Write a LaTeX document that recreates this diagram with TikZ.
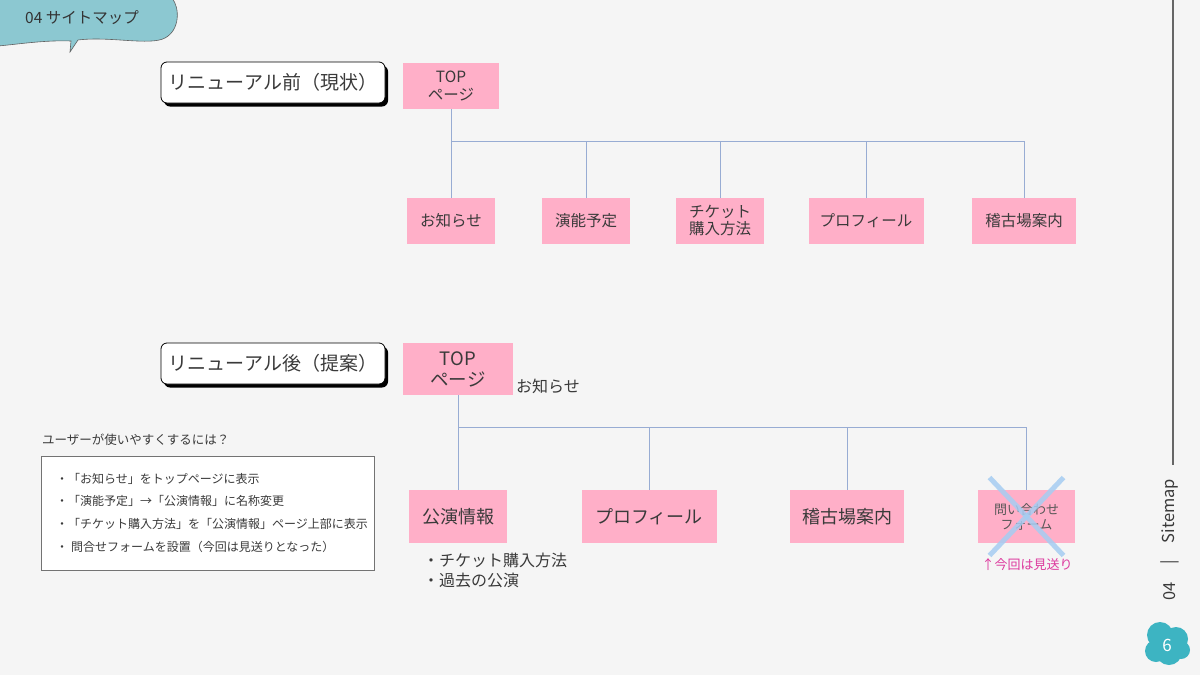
\documentclass[tikz,border=0pt]{standalone}
\usepackage{fontspec}
\setmainfont{Noto Sans CJK JP}
\usetikzlibrary{shadows}
\definecolor{bgc}{HTML}{F5F5F5}
\definecolor{pinkc}{HTML}{FFAFC8}
\definecolor{linec}{HTML}{98ACD3}
\definecolor{txt}{HTML}{3A3A3A}
\definecolor{tealc}{HTML}{8CC8D1}
\definecolor{teal2}{HTML}{3DB4C2}
\definecolor{crossc}{HTML}{A6CDF2}
\definecolor{magc}{HTML}{DD3A9E}
\begin{document}
\begin{tikzpicture}[x=1pt,y=-1pt,
  pbox/.style={fill=pinkc, inner sep=0pt, text=txt, align=center},
  conn/.style={draw=linec, line width=0.9pt},
  titlebox/.style={draw=black, line width=0.8pt, fill=white, rounded corners=6pt,
    minimum width=224pt, minimum height=41pt, inner sep=0pt, text=txt,
    font=\fontsize{19}{21}\selectfont,
    drop shadow={shadow xshift=3pt, shadow yshift=-3.5pt, fill=black, opacity=1}},
  lbl/.style={inner sep=0pt, text=txt, anchor=west},
  vtext/.style={rotate=90, inner sep=0pt, text=txt, font=\fontsize{16.5}{18}\selectfont},
]
\useasboundingbox (0,0) rectangle (1200,675);
\fill[bgc] (0,0) rectangle (1200,675);

% top-left bubble
\fill[tealc, draw=txt!80, line width=0.6pt]
  (-2,-2) -- (172,-2) .. controls (180,8) and (180,30) .. (165,38)
  .. controls (150,46) and (110,36) .. (78,40) -- (70,52) -- (71,41)
  .. controls (45,40) and (20,44) .. (-2,46) -- cycle;
\node[inner sep=0pt, text=txt!90!black, anchor=west, font=\fontsize{15.5}{17}\selectfont] (tab) at (25,18) {04 サイトマップ};

% right side line and vertical text
\coordinate (rl1) at (1173,0);
\coordinate (rl2) at (1173,465);
\draw[black!60, line width=1.6pt] (rl1) -- (rl2);
\node[vtext] (sm) at (1170,511) {Sitemap};
\node[vtext] (bar) at (1170,562) {|};
\node[vtext] (n04) at (1170,591) {04};

% page blob
\fill[teal2] (1160,635) circle (13) (1176,639) circle (12) (1169,652) circle (13)
  (1156,651) circle (11) (1181,650) circle (9);
\node[text=white, inner sep=0pt, font=\fontsize{17}{18}\selectfont] (pg) at (1167,645) {6};

% ===== before =====
\node[titlebox] (t1) at (273,82.5) {リニューアル前（現状）};
\node[pbox, minimum width=96pt, minimum height=46pt, font=\fontsize{15.5}{18}\selectfont] (top1) at (451,86) {TOP\\ページ};

\node[pbox, minimum width=88pt, minimum height=46pt, font=\fontsize{15.5}{18}\selectfont] (a1) at (451,221) {お知らせ};
\node[pbox, minimum width=88pt, minimum height=46pt, font=\fontsize{15.5}{18}\selectfont] (a2) at (586,221) {演能予定};
\node[pbox, minimum width=88pt, minimum height=46pt, font=\fontsize{15.5}{17}\selectfont] (a3) at (720,221) {チケット\\購入方法};
\node[pbox, minimum width=115pt, minimum height=46pt, font=\fontsize{15.5}{18}\selectfont] (a4) at (866,221) {プロフィール};
\node[pbox, minimum width=104pt, minimum height=46pt, font=\fontsize{15.5}{18}\selectfont] (a5) at (1024,221) {稽古場案内};

\coordinate (bus1) at (451,141);
\draw[conn] (top1.south) -- (a1.north);
\draw[conn] (bus1) -| (a5.north);
\draw[conn] (a2.north) -- (a2.north |- bus1);
\draw[conn] (a3.north) -- (a3.north |- bus1);
\draw[conn] (a4.north) -- (a4.north |- bus1);

% ===== after =====
\node[titlebox] (t2) at (273,363.5) {リニューアル後（提案）};
\node[pbox, minimum width=110pt, minimum height=52pt, font=\fontsize{18.5}{21}\selectfont] (top2) at (458,369) {TOP\\ページ};
\node[lbl, font=\fontsize{16}{18}\selectfont] (oshi) at (516,386) {お知らせ};

\node[pbox, minimum width=98pt, minimum height=53pt, font=\fontsize{18}{20}\selectfont] (b1) at (458,516.5) {公演情報};
\node[pbox, minimum width=135pt, minimum height=53pt, font=\fontsize{18}{20}\selectfont] (b2) at (649,516.5) {プロフィール};
\node[pbox, minimum width=114pt, minimum height=53pt, font=\fontsize{18}{20}\selectfont] (b3) at (847,516.5) {稽古場案内};
\node[pbox, minimum width=97pt, minimum height=53pt, text=txt!85, font=\fontsize{13}{15}\selectfont] (b4) at (1026.5,516.5) {問い合わせ\\フォーム};

\coordinate (bus2) at (458,427);
\draw[conn] (top2.south) -- (b1.north);
\draw[conn] (bus2) -| (b4.north);
\draw[conn] (b2.north) -- (b2.north |- bus2);
\draw[conn] (b3.north) -- (b3.north |- bus2);

% cross
\draw[crossc, opacity=0.85, line width=5pt] ([shift={(-37,-39)}]b4.center) -- ([shift={(37,39)}]b4.center);
\draw[crossc, opacity=0.85, line width=5pt] ([shift={(37,-39)}]b4.center) -- ([shift={(-37,39)}]b4.center);
\node[inner sep=0pt, text=magc, font=\fontsize{13}{15}\selectfont] (skip) at (1027,565) {↑今回は見送り};

\node[lbl, font=\fontsize{16}{18}\selectfont] (sub1) at (423,560) {・チケット購入方法};
\node[lbl, font=\fontsize{16}{18}\selectfont] (sub2) at (423,580) {・過去の公演};

% left notes
\node[lbl, font=\fontsize{12.5}{14}\selectfont] (q) at (42,440) {ユーザーが使いやすくするには？};
\node[draw=black!55, fill=white, line width=0.7pt, minimum width=333pt, minimum height=114pt, inner sep=0pt] (nb) at (207.5,513) {};
\node[lbl, font=\fontsize{12}{14}\selectfont] (n1) at (56,479) {・「お知らせ」をトップページに表示};
\node[lbl, font=\fontsize{12}{14}\selectfont] (n2) at (56,501) {・「演能予定」→「公演情報」に名称変更};
\node[lbl, font=\fontsize{12}{14}\selectfont] (n3) at (56,524) {・「チケット購入方法」を「公演情報」ページ上部に表示};
\node[lbl, font=\fontsize{12}{14}\selectfont] (n4) at (56,547) {・\hspace{3pt}問合せフォームを設置（今回は見送りとなった）};
\end{tikzpicture}
\end{document}
